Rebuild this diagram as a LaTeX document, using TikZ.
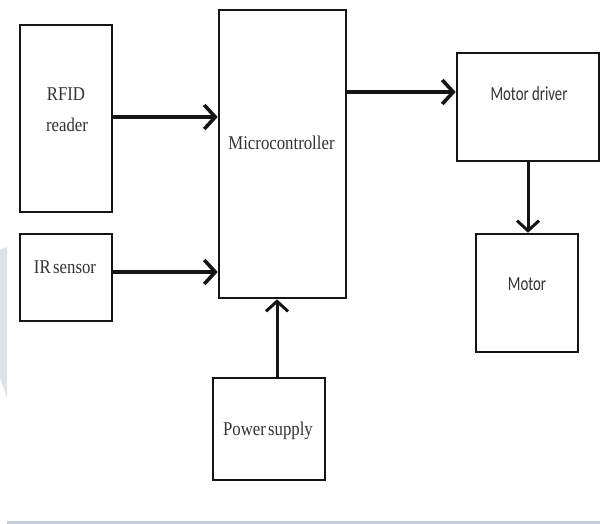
\documentclass[tikz,border=0pt]{standalone}
\usepackage{graphicx}
\usepackage{fontspec}
\setmainfont{Liberation Serif}
\newfontfamily\sansf{Carlito}
\usetikzlibrary{arrows.meta}
\definecolor{edgegray}{HTML}{DDE2EA}
\definecolor{linegray}{HTML}{C5CEDA}
\definecolor{inkc}{HTML}{151515}
\definecolor{textc}{HTML}{333333}
\newcommand{\condser}[1]{\scalebox{0.86}[1]{#1}}
\newcommand{\condsan}[1]{\scalebox{0.74}[1]{#1}}
\tikzset{
  blk/.style={draw=inkc, line width=2.6pt, minimum width=#1, inner sep=0pt},
  blkh/.style={minimum height=#1},
  arrthick/.style={draw=inkc, line width=4.2pt, -{Straight Barb[length=11pt,width=24pt,line width=3.6pt]}},
  arrthin/.style={draw=inkc, line width=3pt, -{Straight Barb[length=10pt,width=22pt,line width=3pt]}},
  serift/.style={text=textc, font=\fontsize{19.5}{22}\selectfont, inner sep=0pt, anchor=base},
  sanst/.style={text=textc, font=\sansf\fontsize{20}{23}\selectfont, inner sep=0pt, anchor=base},
}
\begin{document}
\begin{tikzpicture}[x=1pt,y=-1pt]
\useasboundingbox (0,0) rectangle (600,524);
% faint page-edge shape and bottom rule
\fill[edgegray] (0,250) -- (7,247) -- (7,397) -- (0,378) -- cycle;
\fill[linegray] (7,520.5) rectangle (600,523.5);
% blocks
\node[blk=92pt, blkh=187pt] (rfid) at (66,118.5) {};
\node[blk=92pt, blkh=87pt] (ir) at (66,277.5) {};
\node[blk=127pt, blkh=288pt] (mc) at (282.5,154) {};
\node[blk=142pt, blkh=108pt] (md) at (528,107) {};
\node[blk=102pt, blkh=118pt] (mot) at (527,293) {};
\node[blk=112pt, blkh=102pt] (ps) at (269,429) {};
% texts
\node[serift] (trfid1) at (66,101) {\condser{RFID}};
\node[serift] (trfid2) at (67,132) {\condser{reader}};
\node[serift] (tir) at (65,273) {\condser{IR\hspace{-0.1em} sensor}};
\node[serift] (tmc) at (281.5,150) {\condser{Microcontroller}};
\node[sanst] (tmd) at (529,101) {\condsan{Motor driver}};
\node[sanst] (tmot) at (527,290) {\condsan{Motor}};
\node[serift] (tps) at (268,435) {\condser{Power\hspace{-0.12em} supply}};
% connectors
\draw[arrthick] ([yshift=1.5pt]rfid.east) -- ([yshift=1.5pt]rfid.east -| mc.west);
\draw[arrthick] ([yshift=5.5pt]ir.east) -- ([yshift=5.5pt]ir.east -| mc.west);
\draw[arrthick] ([yshift=15pt]md.west -| mc.east) -- ([yshift=15pt]md.west);
\draw[arrthin] (md.south) -- (md.south |- mot.north);
\draw[arrthin] ([xshift=8pt]ps.north) -- ([xshift=8pt]ps.north |- mc.south);
\end{tikzpicture}
\end{document}
